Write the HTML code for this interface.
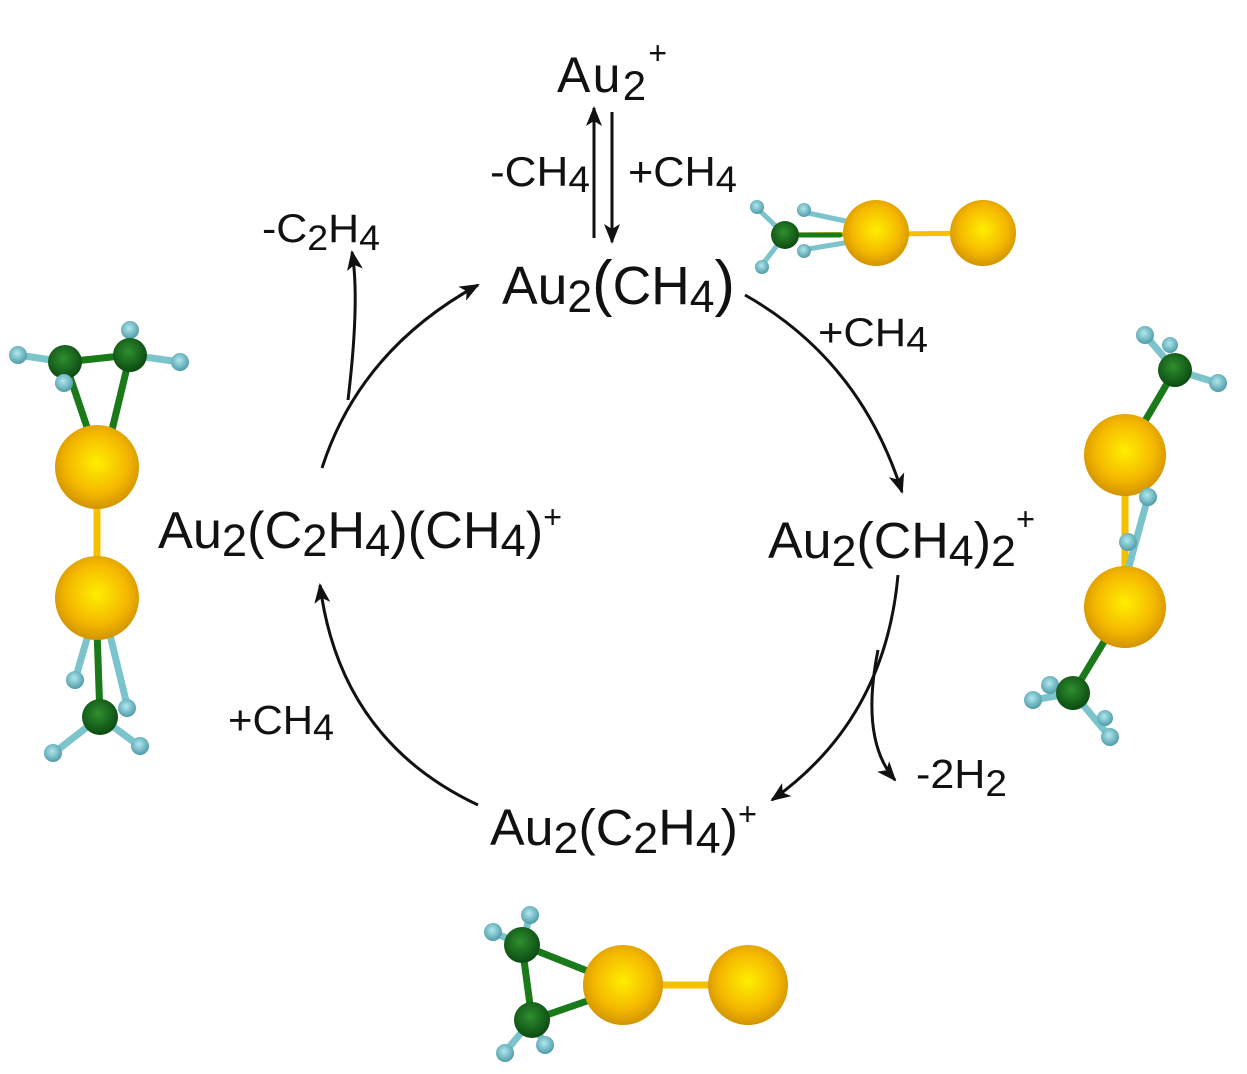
<!DOCTYPE html><html><head><style>body{margin:0;background:#fff}svg{display:block}text{font-family:"Liberation Sans",sans-serif;fill:#111}</style></head><body>
<svg width="1247" height="1074" viewBox="0 0 1247 1074" xmlns="http://www.w3.org/2000/svg">
<defs>
<radialGradient id="au" cx="0.5" cy="0.45" r="0.6"><stop offset="0" stop-color="#ffee00"/><stop offset="0.6" stop-color="#f5b800"/><stop offset="1" stop-color="#c88a00"/></radialGradient>
<radialGradient id="c" cx="0.45" cy="0.4" r="0.6"><stop offset="0" stop-color="#2f8f2f"/><stop offset="1" stop-color="#0b4a12"/></radialGradient>
<radialGradient id="h" cx="0.45" cy="0.4" r="0.6"><stop offset="0" stop-color="#b0e8ee"/><stop offset="1" stop-color="#4f9ba8"/></radialGradient>
<marker id="ar" markerWidth="20" markerHeight="16" refX="18" refY="8" orient="auto" markerUnits="userSpaceOnUse" viewBox="0 0 20 16"><path d="M0,0 L20,8 L0,16 L5,8 Z" fill="#111"/></marker>
</defs>
<g stroke="#111" stroke-width="3" fill="none">
<path d="M745,295 Q860,360 902,492" marker-end="url(#ar)"/>
<path d="M898,575 Q885,720 772,800" marker-end="url(#ar)"/>
<path d="M878,650 Q860,740 895,780" marker-end="url(#ar)"/>
<path d="M478,805 Q340,740 320,585" marker-end="url(#ar)"/>
<path d="M322,468 Q360,350 478,285" marker-end="url(#ar)"/>
<path d="M348,400 Q360,300 352,252" marker-end="url(#ar)"/>
<path d="M594,238 L594,108" marker-end="url(#ar)"/>
<path d="M612,112 L612,242" marker-end="url(#ar)"/>
</g>
<text x="557" y="92" font-size="50" textLength="110">Au<tspan font-size="42" dy="8">2</tspan><tspan font-size="32" dy="-36">+</tspan></text>
<text x="490" y="186" font-size="42" textLength="100" lengthAdjust="spacingAndGlyphs">-CH<tspan font-size="37" dy="6">4</tspan></text>
<text x="628" y="186" font-size="42" textLength="109" lengthAdjust="spacingAndGlyphs">+CH<tspan font-size="37" dy="6">4</tspan></text>
<text x="262" y="242" font-size="40" textLength="118" lengthAdjust="spacingAndGlyphs">-C<tspan font-size="35" dy="8">2</tspan><tspan dy="-8">H</tspan><tspan font-size="35" dy="8">4</tspan></text>
<text x="502" y="304" font-size="54" textLength="233" lengthAdjust="spacingAndGlyphs">Au<tspan font-size="45" dy="8">2</tspan><tspan dy="-8" font-size="62">(</tspan>CH<tspan font-size="45" dy="8">4</tspan><tspan dy="-8" font-size="62">)</tspan></text>
<text x="818" y="346" font-size="40" textLength="110" lengthAdjust="spacingAndGlyphs">+CH<tspan font-size="36" dy="6">4</tspan></text>
<text x="768" y="558" font-size="51" textLength="267" lengthAdjust="spacingAndGlyphs">Au<tspan font-size="44" dy="8">2</tspan><tspan dy="-8">(CH</tspan><tspan font-size="44" dy="8">4</tspan><tspan dy="-8">)</tspan><tspan font-size="44" dy="8">2</tspan><tspan font-size="32" dy="-36">+</tspan></text>
<text x="158" y="548" font-size="52" textLength="404" lengthAdjust="spacingAndGlyphs">Au<tspan font-size="45" dy="8">2</tspan><tspan dy="-8">(C</tspan><tspan font-size="45" dy="8">2</tspan><tspan dy="-8">H</tspan><tspan font-size="45" dy="8">4</tspan><tspan dy="-8">)(CH</tspan><tspan font-size="45" dy="8">4</tspan><tspan dy="-8">)</tspan><tspan font-size="32" dy="-20">+</tspan></text>
<text x="916" y="788" font-size="41" textLength="91" lengthAdjust="spacingAndGlyphs">-2H<tspan font-size="37" dy="8">2</tspan></text>
<text x="228" y="734" font-size="41" textLength="106" lengthAdjust="spacingAndGlyphs">+CH<tspan font-size="37" dy="6">4</tspan></text>
<text x="490" y="845" font-size="51" textLength="267" lengthAdjust="spacingAndGlyphs">Au<tspan font-size="44" dy="8">2</tspan><tspan dy="-8">(C</tspan><tspan font-size="44" dy="8">2</tspan><tspan dy="-8">H</tspan><tspan font-size="44" dy="8">4</tspan><tspan dy="-8">)</tspan><tspan font-size="32" dy="-20">+</tspan></text>
<!-- top right molecule -->
<g stroke-width="5" stroke-linecap="round">
<line x1="785" y1="235" x2="983" y2="233" stroke="#f5c000"/>
<line x1="785" y1="235" x2="840" y2="235" stroke="#1a7a1a"/>
<line x1="808" y1="213" x2="850" y2="222" stroke="#7bc4cc"/>
<line x1="802" y1="250" x2="850" y2="242" stroke="#7bc4cc"/>
<line x1="785" y1="235" x2="757" y2="208" stroke="#7bc4cc"/>
<line x1="785" y1="235" x2="762" y2="265" stroke="#7bc4cc"/>
</g>
<circle cx="757" cy="207" r="7" fill="url(#h)"/><circle cx="785" cy="235" r="14" fill="url(#c)"/>
<circle cx="804" cy="210" r="7" fill="url(#h)"/><circle cx="804" cy="251" r="7" fill="url(#h)"/><circle cx="762" cy="267" r="7" fill="url(#h)"/>
<circle cx="876" cy="233" r="33" fill="url(#au)"/><circle cx="983" cy="233" r="33" fill="url(#au)"/>
<!-- left molecule -->
<g stroke-width="7" stroke-linecap="round">
<line x1="97" y1="467" x2="97" y2="598" stroke="#f5c000"/>
<line x1="65" y1="362" x2="88" y2="430" stroke="#1a7a1a"/><line x1="130" y1="355" x2="112" y2="430" stroke="#1a7a1a"/>
<line x1="65" y1="362" x2="130" y2="355" stroke="#1a7a1a"/>
<line x1="18" y1="355" x2="65" y2="362" stroke="#7bc4cc"/><line x1="130" y1="355" x2="180" y2="362" stroke="#7bc4cc"/>
<line x1="97" y1="630" x2="100" y2="717" stroke="#1a7a1a"/>
<line x1="88" y1="635" x2="75" y2="680" stroke="#7bc4cc"/><line x1="110" y1="635" x2="127" y2="705" stroke="#7bc4cc"/>
<line x1="100" y1="717" x2="55" y2="752" stroke="#7bc4cc"/><line x1="100" y1="717" x2="138" y2="745" stroke="#7bc4cc"/>
</g>
<circle cx="18" cy="355" r="9" fill="url(#h)"/><circle cx="130" cy="330" r="9" fill="url(#h)"/><circle cx="180" cy="362" r="9" fill="url(#h)"/>
<circle cx="65" cy="362" r="17" fill="url(#c)"/><circle cx="130" cy="355" r="17" fill="url(#c)"/><circle cx="64" cy="383" r="9" fill="url(#h)"/>
<circle cx="97" cy="467" r="42" fill="url(#au)"/><circle cx="97" cy="598" r="42" fill="url(#au)"/>
<circle cx="75" cy="680" r="9" fill="url(#h)"/>
<circle cx="100" cy="717" r="18" fill="url(#c)"/><circle cx="127" cy="708" r="9" fill="url(#h)"/>
<circle cx="53" cy="753" r="9" fill="url(#h)"/><circle cx="140" cy="746" r="9" fill="url(#h)"/>
<!-- right molecule -->
<g stroke-width="7" stroke-linecap="round">
<line x1="1125" y1="455" x2="1125" y2="607" stroke="#f5c000"/>
<line x1="1125" y1="455" x2="1175" y2="370" stroke="#1a7a1a"/>
<line x1="1125" y1="607" x2="1073" y2="693" stroke="#1a7a1a"/>
<line x1="1148" y1="497" x2="1128" y2="570" stroke="#7bc4cc"/>
<line x1="1175" y1="370" x2="1218" y2="383" stroke="#7bc4cc"/><line x1="1175" y1="370" x2="1145" y2="335" stroke="#7bc4cc"/>
<line x1="1073" y1="693" x2="1033" y2="700" stroke="#7bc4cc"/><line x1="1073" y1="693" x2="1110" y2="737" stroke="#7bc4cc"/>
</g>
<circle cx="1145" cy="335" r="9" fill="url(#h)"/><circle cx="1170" cy="345" r="8" fill="url(#h)"/>
<circle cx="1175" cy="370" r="17" fill="url(#c)"/><circle cx="1218" cy="383" r="9" fill="url(#h)"/>
<circle cx="1125" cy="455" r="41" fill="url(#au)"/><circle cx="1125" cy="607" r="41" fill="url(#au)"/>
<circle cx="1148" cy="497" r="9" fill="url(#h)"/><circle cx="1128" cy="542" r="9" fill="url(#h)"/>
<circle cx="1033" cy="700" r="9" fill="url(#h)"/><circle cx="1050" cy="685" r="9" fill="url(#h)"/>
<circle cx="1073" cy="693" r="17" fill="url(#c)"/><circle cx="1105" cy="718" r="8" fill="url(#h)"/><circle cx="1110" cy="737" r="9" fill="url(#h)"/>
<!-- bottom molecule -->
<g stroke-width="7" stroke-linecap="round">
<line x1="623" y1="985" x2="748" y2="985" stroke="#f5c000"/>
<line x1="522" y1="945" x2="532" y2="1020" stroke="#1a7a1a"/>
<line x1="522" y1="945" x2="590" y2="972" stroke="#1a7a1a"/><line x1="532" y1="1020" x2="590" y2="1000" stroke="#1a7a1a"/>
<line x1="522" y1="945" x2="493" y2="932" stroke="#7bc4cc"/><line x1="522" y1="945" x2="530" y2="915" stroke="#7bc4cc"/>
<line x1="532" y1="1020" x2="505" y2="1052" stroke="#7bc4cc"/><line x1="532" y1="1020" x2="545" y2="1045" stroke="#7bc4cc"/>
</g>
<circle cx="493" cy="932" r="9" fill="url(#h)"/><circle cx="530" cy="915" r="9" fill="url(#h)"/>
<circle cx="522" cy="945" r="18" fill="url(#c)"/><circle cx="532" cy="1020" r="18" fill="url(#c)"/>
<circle cx="505" cy="1053" r="9" fill="url(#h)"/><circle cx="545" cy="1045" r="9" fill="url(#h)"/>
<circle cx="623" cy="985" r="40" fill="url(#au)"/><circle cx="748" cy="985" r="40" fill="url(#au)"/>
</svg>
</body></html>
